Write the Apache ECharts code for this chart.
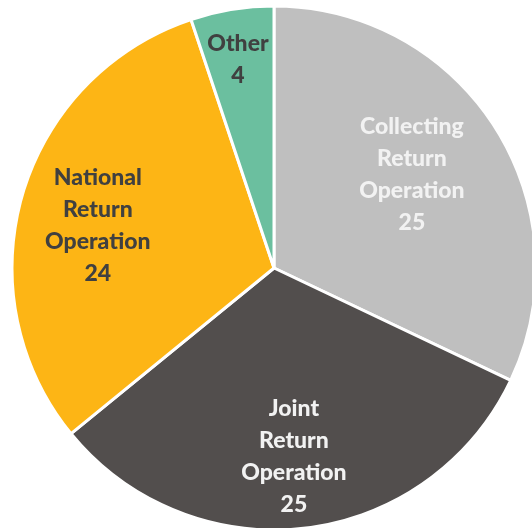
<!DOCTYPE html>
<html>
<head>
<meta charset="utf-8">
<script src="https://cdn.jsdelivr.net/npm/echarts@6/dist/echarts.min.js"></script>
<style>
  html, body { margin: 0; padding: 0; background: #ffffff; }
  #chart { width: 532px; height: 528px; }
</style>
</head>
<body>
<div id="chart"></div>
<script>
// Return operations by type
const categories = ['Collecting\nReturn\nOperation', 'Joint\nReturn\nOperation', 'National\nReturn\nOperation', 'Other'];
const values = [25, 25, 24, 4];
const colors = ['#BFBFBF', '#524E4D', '#FDB515', '#6BBF9F'];
const labelColors = ['#F2F2F2', '#F2F2F2', '#404040', '#404040'];
// label placement: fraction of radius, and small angular nudge (degrees)
const labelRadius = [0.635, 0.725, 0.692, 0.806];
const labelAngleShift = [1.7, -0.9, 2.5, 0.6];

const cx = 274, cy = 268, R = 262;
const total = values.reduce((a, b) => a + b, 0);
const midAngles = [];
let acc = 0;
values.forEach(v => {
  midAngles.push(90 - (acc + v / 2) / total * 360);
  acc += v;
});

const chart = echarts.init(document.getElementById('chart'));
chart.setOption({
  animation: false,
  series: [{
    type: 'pie',
    center: [cx, cy],
    radius: [0, R],
    startAngle: 90,
    clockwise: true,
    itemStyle: { borderColor: '#ffffff', borderWidth: 3 },
    label: {
      show: true,
      position: 'inside',
      fontFamily: 'Lato',
      fontWeight: 900,
      fontSize: 23,
      lineHeight: 32,
      formatter: p => p.name + '\n' + p.value
    },
    labelLine: { show: false },
    labelLayout: p => {
      const i = p.dataIndex;
      const a = (midAngles[i] + labelAngleShift[i]) * Math.PI / 180;
      return {
        x: cx + R * labelRadius[i] * Math.cos(a),
        y: cy - R * labelRadius[i] * Math.sin(a)
      };
    },
    data: categories.map((c, i) => ({
      name: c,
      value: values[i],
      itemStyle: { color: colors[i] },
      label: { color: labelColors[i] }
    }))
  }]
});
</script>
</body>
</html>
